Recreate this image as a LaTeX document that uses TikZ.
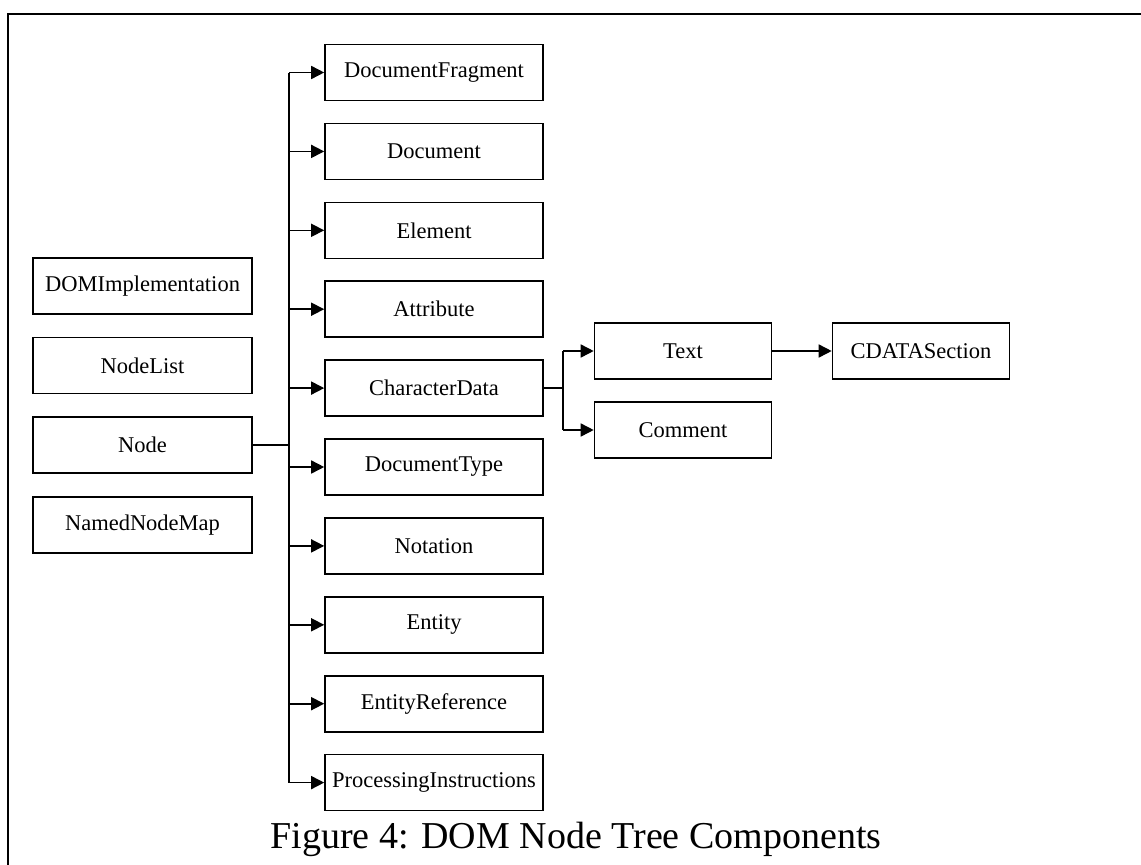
\documentclass[tikz,border=0pt]{standalone}
\usepackage{fontspec}
\setmainfont{Liberation Serif}
\usetikzlibrary{arrows.meta}
\begin{document}
\begin{tikzpicture}[x=1pt,y=-1pt,
  box/.style={draw,line width=1.6pt,minimum height=56pt,inner sep=0pt,font=\fontsize{22.5}{27}\selectfont},
  lbox/.style={box,minimum width=219pt},
  mbox/.style={box,minimum width=218pt},
  rbox/.style={box,minimum width=177pt},
  conn/.style={line width=1.6pt},
  arr/.style={line width=1.6pt,-{Triangle[length=13pt,width=13pt]}}]
\useasboundingbox (0,0) rectangle (1141,865);
% frame (cropped)
\draw[line width=2pt] (8,865) -- (8,14) -- (1141,14);
% left column
\node[lbox] (domimpl) at (142.5,286) {DOMImplementation};
\node[lbox] (nodelist) at (142.5,365.5) {NodeList};
\node[lbox] (node) at (142.5,445) {Node};
\node[lbox] (nnm) at (142.5,525) {NamedNodeMap};
% middle column
\node[mbox] (docfrag) at (434,72.5) {DocumentFragment};
\node[mbox] (doc) at (434,151.4) {Document};
\node[mbox] (elem) at (434,230.3) {Element};
\node[mbox] (attr) at (434,309.2) {Attribute};
\node[mbox] (chardata) at (434,388.1) {CharacterData};
\node[mbox] (doctype) at (434,467) {DocumentType};
\node[mbox] (notation) at (434,545.9) {Notation};
\node[mbox] (entity) at (434,624.8) {Entity};
\node[mbox] (entref) at (434,703.7) {EntityReference};
\node[mbox] (procinst) at (434,782.6) {ProcessingInstructions};
% right
\node[rbox] (text) at (683,351) {Text};
\node[rbox] (comment) at (683,430) {Comment};
\node[rbox] (cdata) at (921,351) {CDATASection};
% caption
\node[font=\fontsize{38}{44}\selectfont,inner sep=0pt,anchor=base] (caption) at (576,848) {Figure 4: DOM Node Tree Components};
% spine
\coordinate (sptop) at (289,72.5);
\coordinate (spbot) at (289,782.6);
\draw[conn] (sptop) -- (spbot);
\draw[conn] (node.east) -- (node.east -| sptop);
\foreach \n in {docfrag,doc,elem,attr,chardata,doctype,notation,entity,entref,procinst}
  \draw[arr] (\n.west -| sptop) -- (\n.west);
% character data branch
\coordinate (cdj) at (563,388.1);
\draw[conn] (chardata.east) -- (cdj);
\draw[conn] (text.west -| cdj) -- (comment.west -| cdj);
\draw[arr] (text.west -| cdj) -- (text.west);
\draw[arr] (comment.west -| cdj) -- (comment.west);
\draw[arr] (text.east) -- (cdata.west);
\end{tikzpicture}
\end{document}
